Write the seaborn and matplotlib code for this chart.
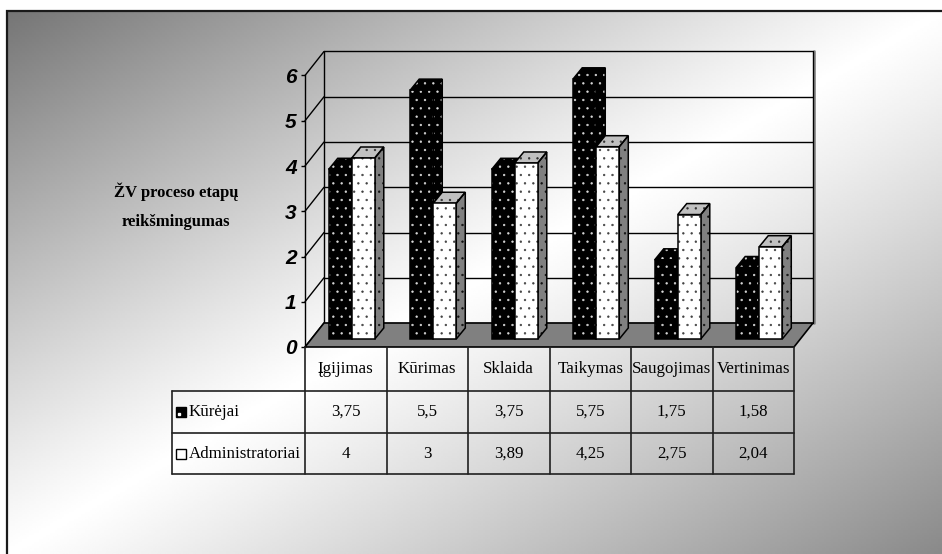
import numpy as np
import pandas as pd
import matplotlib
matplotlib.use("Agg")
import matplotlib.pyplot as plt
import seaborn as sns
from matplotlib.patches import Polygon, Rectangle
from matplotlib.lines import Line2D

# ---- data -----------------------------------------------------------------
categories = ["Įgijimas", "Kūrimas", "Sklaida", "Taikymas", "Saugojimas", "Vertinimas"]
series_names = ["Kūrėjai", "Administratoriai"]
kurejai = [3.75, 5.5, 3.75, 5.75, 1.75, 1.58]
administratoriai = [4, 3, 3.89, 4.25, 2.75, 2.04]
y_ticks = [0, 1, 2, 3, 4, 5, 6]
axis_title = "ŽV proceso etapų\nreikšmingumas"

df = pd.DataFrame({
    "etapas": categories * 2,
    "grupe": [series_names[0]] * len(categories) + [series_names[1]] * len(categories),
    "reiksme": kurejai + administratoriai,
})

def fmt(v):
    return f"{v:g}".replace(".", ",")

# ---- figure / layout (pixels) ----------------------------------------------
W, H = 942, 554
DPI = 100
sns.set_theme(style="white")
plt.rcParams["font.family"] = ["Liberation Serif", "DejaVu Serif"]
plt.rcParams["hatch.linewidth"] = 0.45

fig = plt.figure(figsize=(W / DPI, H / DPI), dpi=DPI)
fig.patch.set_facecolor("white")

FX0, FX1 = 305, 794          # front edge of the floor
FY0 = 347                    # value 0 on the front plane (from top)
UNIT = 45.25                 # pixels per value unit
COLW = (FX1 - FX0) / len(categories)
BACK = (19, 24)              # back wall offset (right, up)
BAR = (6, 8)                 # bar plane offset
DEPTH = (9, 11)              # bar depth

# background with diagonal grey-white-grey gradient, inside the frame
ax_bg = fig.add_axes([0, 0, 1, 1], zorder=0)
ax_bg.set_xlim(0, W)
ax_bg.set_ylim(H, 0)
ax_bg.axis("off")
BX0, BY0 = 7, 11
xx, yy = np.meshgrid(np.linspace(0, 1, 400), np.linspace(0, 1, 240))
t = (xx + yy) / 2
d = np.abs(t - 0.5) / 0.5
amp = np.where(t < 0.5, 0.54, 0.46)
grad = 1 - amp * d ** 1.1
ax_bg.imshow(grad, cmap="gray", vmin=0, vmax=1, extent=(BX0, W, H, BY0),
             aspect="auto", interpolation="bilinear", zorder=0)
ax_bg.plot([BX0, BX0, W], [H, BY0, BY0], color="#1a1a1a", lw=1.6, zorder=1,
           solid_joinstyle="miter")

# title on the left
ax_bg.text(176, 206, axis_title, ha="center", va="center", multialignment="center",
           fontsize=12, fontweight="bold", linespacing=2.05, color="black",
           family=["Liberation Serif", "DejaVu Serif"])

# ---- front plane axes: walls, floor, y axis, data table ------------------------
ax = fig.add_axes([FX0 / W, (H - FY0) / H, (FX1 - FX0) / W, 6 * UNIT / H], zorder=1)
ax.set_xlim(-0.5, len(categories) - 0.5)
ax.set_ylim(0, 6)
ax.patch.set_alpha(0)
for s in ["top", "right", "bottom"]:
    ax.spines[s].set_visible(False)
ax.spines["left"].set_color("black")
ax.spines["left"].set_linewidth(1.0)
ax.set_xticks([])
ax.set_yticks(y_ticks)
ax.set_yticklabels([str(v) for v in y_ticks])
ax.tick_params(axis="y", direction="out", length=3, width=1, color="black", pad=3,
               left=True)
for lab in ax.get_yticklabels():
    lab.set_family(["Liberation Sans Narrow", "Liberation Sans", "DejaVu Sans"])
    lab.set_fontweight("bold")
    lab.set_fontstyle("italic")
    lab.set_fontsize(15)
    lab.set_color("black")

bdx, bdy = BACK[0] / COLW, BACK[1] / UNIT
xl, xr = -0.5, len(categories) - 0.5
line_kw = dict(color="black", lw=1.0, clip_on=False)
for v in y_ticks:
    # back wall gridline and left wall diagonal
    ax.add_line(Line2D([xl + bdx, xr + bdx], [v + bdy, v + bdy], zorder=1, **line_kw))
    ax.add_line(Line2D([xl, xl + bdx], [v, v + bdy], zorder=1, **line_kw))
ax.add_line(Line2D([xl + bdx, xl + bdx], [bdy, 6 + bdy], zorder=1, **line_kw))
ax.add_line(Line2D([xr + bdx + 0.012, xr + bdx + 0.012], [bdy, 6 + bdy], color="#8a8a8a",
                   lw=2.0, clip_on=False, zorder=1))
ax.add_line(Line2D([xr + bdx, xr + bdx], [bdy, 6 + bdy], zorder=1.1, **line_kw))

floor = Polygon([(xl, 0), (xr, 0), (xr + bdx, bdy), (xl + bdx, bdy)], closed=True,
                facecolor="#808080", edgecolor="black", lw=1.2, clip_on=False, zorder=2)
ax.add_patch(floor)

# data table below the floor
r1, r2, r3 = -44 / UNIT, -86 / UNIT, -127 / UNIT
x_leg = xl - (FX0 - 172) / COLW
tab_kw = dict(color="#202020", lw=1.2, clip_on=False, zorder=3)
for i in range(len(categories) + 1):
    ax.add_line(Line2D([xl + i, xl + i], [0, r3], **tab_kw))
ax.add_line(Line2D([x_leg, x_leg], [r1, r3], **tab_kw))
for r in (r1, r2, r3):
    ax.add_line(Line2D([x_leg, xr], [r, r], **tab_kw))

txt_kw = dict(fontsize=12.2, color="black", va="center", clip_on=False,
              family=["Liberation Serif", "DejaVu Serif"])
for i, cat in enumerate(categories):
    ax.text(i, r1 / 2, cat, ha="center", **txt_kw)
    ax.text(i, (r1 + r2) / 2, fmt(kurejai[i]), ha="center", **txt_kw)
    ax.text(i, (r2 + r3) / 2, fmt(administratoriai[i]), ha="center", **txt_kw)

sq_w, sq_h = 10 / COLW, 10 / UNIT
for row_mid, name, fc in [((r1 + r2) / 2, series_names[0], "black"),
                          ((r2 + r3) / 2, series_names[1], "white")]:
    ax.add_patch(Rectangle((x_leg + 4 / COLW, row_mid - sq_h / 2), sq_w, sq_h,
                           facecolor=fc, edgecolor="black", lw=1.0, clip_on=False,
                           zorder=3))
    ax.text(x_leg + 17 / COLW, row_mid, name, ha="left", **txt_kw)
# single pattern dot inside the dark legend key
ax.plot([x_leg + 7 / COLW], [(r1 + r2) / 2 - 2 / UNIT], marker="s", ms=1.6,
        color="white", clip_on=False, zorder=3.1)

# ---- bars -----------------------------------------------------------------
ax_bar = fig.add_axes([(FX0 + BAR[0]) / W, (H - FY0 + BAR[1]) / H, (FX1 - FX0) / W,
                       6 * UNIT / H], zorder=2)
sns.barplot(data=df, x="etapas", y="reiksme", hue="grupe", order=categories,
            hue_order=series_names, palette={series_names[0]: "black",
                                             series_names[1]: "white"},
            width=0.565, errorbar=None, legend=False, linewidth=0, hatch="..",
            ax=ax_bar)
ax_bar.set_xlim(-0.5, len(categories) - 0.5)
ax_bar.set_ylim(0, 6)
ax_bar.axis("off")
ax_bar.patch.set_alpha(0)

ddx, ddy = DEPTH[0] / COLW, DEPTH[1] / UNIT
styles = [
    # face colours and dot colours for front, top and side
    dict(front=("black", "#d8d8d8"), top=("black", "#d8d8d8"), side=("black", "#d8d8d8"), z=2),
    dict(front=("white", "#404040"), top=("#c0c0c0", "#303030"), side=("#808080", "#101010"), z=4),
]
for cont, st in zip(ax_bar.containers, styles):
    z = st["z"]
    for p in cont:
        x0, w, h = p.get_x(), p.get_width(), p.get_height()
        p.set_edgecolor(st["front"][1])
        p.set_zorder(z + 0.5)
        ax_bar.add_patch(Rectangle((x0, 0), w, h, fill=False, edgecolor="black",
                                   lw=1.1, zorder=z + 0.51, clip_on=False))
        side = [(x0 + w, 0), (x0 + w + ddx, ddy), (x0 + w + ddx, h + ddy), (x0 + w, h)]
        top = [(x0, h), (x0 + w, h), (x0 + w + ddx, h + ddy), (x0 + ddx, h + ddy)]
        for pts, key in [(side, "side"), (top, "top")]:
            fc, hc = st[key]
            ax_bar.add_patch(Polygon(pts, closed=True, facecolor=fc, edgecolor=hc,
                                     lw=0, hatch="..", zorder=z, clip_on=False))
            ax_bar.add_patch(Polygon(pts, closed=True, fill=False, edgecolor="black",
                                     lw=1.1, zorder=z + 0.01, clip_on=False))

fig.savefig("out.png", dpi=DPI)
